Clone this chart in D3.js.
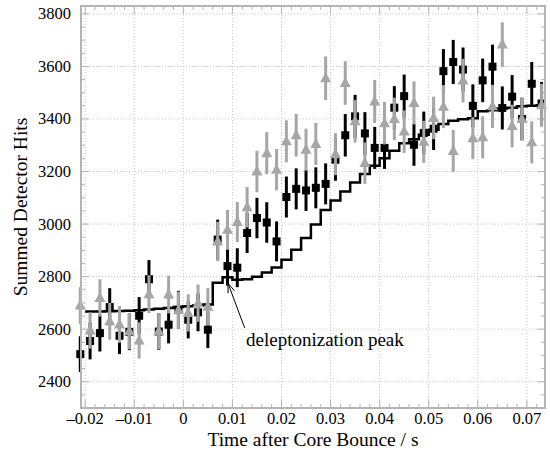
<!DOCTYPE html>
<html>
<head>
<meta charset="utf-8">
<title>Summed Detector Hits</title>
<script src="https://d3js.org/d3.v7.min.js"></script>
<style>
  body { margin: 0; background: #fff; }
  svg { display: block; font-family: "Liberation Serif", "DejaVu Serif", serif; }
  .grid line { stroke: #c8c8c8; stroke-width: 1; stroke-dasharray: 1,2; }
  .frame { fill: none; stroke: #b4b4b4; stroke-width: 2; }
  .tick-mark { stroke: #b4b4b4; stroke-width: 1; }
  .tick-label { font-size: 16.5px; fill: #000; }
  .axis-title { font-size: 19.5px; fill: #000; }
  .step { fill: none; stroke: #000; stroke-width: 2.5; }
</style>
</head>
<body>
<svg id="chart" width="550" height="453"></svg>
<script>
// point times (bin centres, s)
const times = [-0.021, -0.019, -0.017, -0.015, -0.013, -0.011, -0.009, -0.007, -0.005, -0.003,
  -0.001, 0.001, 0.003, 0.005, 0.007, 0.009, 0.011, 0.013, 0.015, 0.017,
  0.019, 0.021, 0.023, 0.025, 0.027, 0.029, 0.031, 0.033, 0.035, 0.037,
  0.039, 0.041, 0.043, 0.045, 0.047, 0.049, 0.051, 0.053, 0.055, 0.057,
  0.059, 0.061, 0.063, 0.065, 0.067, 0.069, 0.071, 0.073];

// black squares
const blackHits = [2505, 2555, 2585, 2684, 2575, 2590, 2651, 2790, 2591, 2617,
  2674, 2636, 2664, 2598, 2941, 2840, 2834, 2966, 3023, 3006,
  2934, 3103, 3134, 3128, 3138, 3153, 3245, 3338, 3410, 3345,
  3290, 3290, 3443, 3487, 3302, 3347, 3363, 3582, 3617, 3588,
  3450, 3547, 3599, 3442, 3485, 3400, 3534, 3459];
const blackErr = [68, 70, 70, 72, 70, 70, 71, 73, 70, 71,
  72, 71, 72, 70, 76, 74, 74, 76, 77, 77,
  76, 78, 78, 78, 78, 78, 80, 81, 82, 81,
  80, 80, 82, 82, 80, 81, 81, 84, 84, 84,
  82, 83, 84, 82, 82, 81, 83, 82];

// grey triangles
const greyHits = [2690, 2595, 2719, 2630, 2618, 2592, 2557, 2733, 2592, 2732,
  2672, 2662, 2699, 2685, 2934, 2978, 3008, 3064, 3200, 3270,
  3207, 3315, 3338, 3283, 3305, 3555, 3266, 3537, 3391, 3232,
  3467, 3384, 3400, 3352, 3461, 3313, 3404, 3447, 3278, 3546,
  3327, 3330, 3448, 3683, 3373, 3400, 3311, 3452];
const greyErr = [70, 69, 71, 70, 70, 69, 69, 72, 69, 72,
  71, 71, 71, 71, 75, 76, 76, 77, 79, 80,
  79, 80, 81, 80, 80, 83, 80, 83, 81, 79,
  82, 81, 81, 81, 82, 80, 81, 82, 80, 83,
  80, 80, 82, 85, 81, 81, 80, 82];

// step line (bin left edges, s) and its levels
const stepEdges = [-0.020, -0.018, -0.016, -0.014, -0.012, -0.010, -0.008, -0.006, -0.004, -0.002,
  0.000, 0.002, 0.004, 0.006, 0.008, 0.010, 0.012, 0.014, 0.016, 0.018,
  0.020, 0.022, 0.024, 0.026, 0.028, 0.030, 0.032, 0.034, 0.036, 0.038,
  0.040, 0.042, 0.044, 0.046, 0.048, 0.050, 0.052, 0.054, 0.056, 0.058,
  0.060, 0.062, 0.064, 0.066, 0.068, 0.070, 0.072, 0.074];
const stepHits = [2667, 2667, 2668, 2669, 2670, 2672, 2675, 2678, 2681, 2684,
  2687, 2690, 2694, 2777, 2798, 2788, 2790, 2800, 2816, 2835,
  2864, 2902, 2947, 2998, 3054, 3090, 3124, 3158, 3191, 3222,
  3251, 3279, 3308, 3323, 3340, 3359, 3381, 3393, 3399, 3403,
  3429, 3433, 3440, 3443, 3448, 3450, 3452];

const xTicks = [-0.02, -0.01, 0, 0.01, 0.02, 0.03, 0.04, 0.05, 0.06, 0.07];
const yTicks = [2400, 2600, 2800, 3000, 3200, 3400, 3600, 3800];

const svg = d3.select('#chart');
const pLeft = 81, pRight = 545, pTop = 6, pBottom = 408;

const x = d3.scaleLinear().domain([-0.02085, 0.0737]).range([pLeft, pRight]);
const y = d3.scaleLinear().domain([2300, 3830]).range([pBottom, pTop]);

svg.append('rect').attr('width', 550).attr('height', 453).attr('fill', '#fff');

svg.append('clipPath').attr('id', 'clip')
  .append('rect').attr('x', pLeft - 6).attr('y', pTop).attr('width', pRight - pLeft + 6).attr('height', pBottom - pTop);

// grid
const grid = svg.append('g').attr('class', 'grid');
grid.selectAll('.gx').data(xTicks).join('line').attr('class', 'gx')
  .attr('x1', d => x(d)).attr('x2', d => x(d)).attr('y1', pTop).attr('y2', pBottom);
grid.selectAll('.gy').data(yTicks).join('line').attr('class', 'gy')
  .attr('y1', d => y(d)).attr('y2', d => y(d)).attr('x1', pLeft).attr('x2', pRight);

// tick marks on all four sides, pointing inwards
const ticks = svg.append('g');
const xMinor = d3.range(-0.020, 0.0737, 0.002);
const yMinor = d3.range(2300, 3830, 50);
xMinor.forEach(v => {
  const major = xTicks.some(t => Math.abs(t - v) < 1e-6);
  const len = major ? 8 : 4;
  ticks.append('line').attr('class', 'tick-mark')
    .attr('x1', x(v)).attr('x2', x(v)).attr('y1', pBottom).attr('y2', pBottom - len);
  ticks.append('line').attr('class', 'tick-mark')
    .attr('x1', x(v)).attr('x2', x(v)).attr('y1', pTop).attr('y2', pTop + len);
});
yMinor.forEach(v => {
  const major = yTicks.includes(v);
  const len = major ? 8 : 4;
  ticks.append('line').attr('class', 'tick-mark')
    .attr('y1', y(v)).attr('y2', y(v)).attr('x1', pLeft).attr('x2', pLeft + len);
  ticks.append('line').attr('class', 'tick-mark')
    .attr('y1', y(v)).attr('y2', y(v)).attr('x1', pRight).attr('x2', pRight - len);
});

// tick labels
svg.append('g').selectAll('text').data(xTicks).join('text')
  .attr('class', 'tick-label')
  .attr('x', d => x(d)).attr('y', 424)
  .attr('text-anchor', 'middle')
  .text(d => d === 0 ? '0' : (d < 0 ? '\u2013' : '') + Math.abs(d).toFixed(2));

svg.append('g').selectAll('text').data(yTicks).join('text')
  .attr('class', 'tick-label')
  .attr('x', pLeft - 10).attr('y', d => y(d)).attr('dy', '0.33em')
  .attr('text-anchor', 'end')
  .text(d => d);

// step line
const stepData = stepHits.map((v, i) => [stepEdges[i], v]);
stepData.push([stepEdges[stepEdges.length - 1], stepHits[stepHits.length - 1]]);
svg.append('path')
  .attr('class', 'step')
  .attr('clip-path', 'url(#clip)')
  .attr('d', d3.line().curve(d3.curveStepAfter).x(d => x(d[0])).y(d => y(d[1]))(stepData));

// black squares with error bars
const blk = svg.append('g');
blk.selectAll('line').data(times).join('line')
  .attr('x1', d => x(d)).attr('x2', d => x(d))
  .attr('y1', (d, i) => y(blackHits[i] - blackErr[i]))
  .attr('y2', (d, i) => y(blackHits[i] + blackErr[i]))
  .attr('stroke', '#000').attr('stroke-width', 3);
blk.selectAll('rect').data(times).join('rect')
  .attr('x', d => x(d) - 4).attr('y', (d, i) => y(blackHits[i]) - 4)
  .attr('width', 8).attr('height', 8).attr('fill', '#000');

// grey triangles with error bars
const gry = svg.append('g');
gry.selectAll('line').data(times).join('line')
  .attr('x1', d => x(d)).attr('x2', d => x(d))
  .attr('y1', (d, i) => y(greyHits[i] - greyErr[i]))
  .attr('y2', (d, i) => y(greyHits[i] + greyErr[i]))
  .attr('stroke', '#a6a6a6').attr('stroke-width', 3);
gry.selectAll('path').data(times).join('path')
  .attr('transform', (d, i) => `translate(${x(d)},${y(greyHits[i])})`)
  .attr('d', 'M0,-6L5.5,4L-5.5,4Z')
  .attr('fill', '#a6a6a6');

// frame
svg.append('rect').attr('class', 'frame')
  .attr('x', pLeft).attr('y', pTop).attr('width', pRight - pLeft).attr('height', pBottom - pTop);

// annotation
const tipX = x(0.0091), tipY = y(2775);
const tailX = x(0.0125), tailY = y(2605);
svg.append('line').attr('x1', tailX).attr('y1', tailY).attr('x2', tipX).attr('y2', tipY)
  .attr('stroke', '#000').attr('stroke-width', 1);
const ang = Math.atan2(tailY - tipY, tailX - tipX);
const headLen = 10, spread = 0.35;
svg.append('path')
  .attr('d', `M${tipX + headLen * Math.cos(ang - spread)},${tipY + headLen * Math.sin(ang - spread)}L${tipX},${tipY}L${tipX + headLen * Math.cos(ang + spread)},${tipY + headLen * Math.sin(ang + spread)}`)
  .attr('fill', 'none').attr('stroke', '#000').attr('stroke-width', 1);
svg.append('text')
  .attr('x', 246).attr('y', 346)
  .attr('font-size', 19)
  .text('deleptonization peak');

// axis titles
svg.append('text').attr('class', 'axis-title')
  .attr('x', (pLeft + pRight) / 2).attr('y', 446)
  .attr('text-anchor', 'middle')
  .text('Time after Core Bounce / s');
svg.append('text').attr('class', 'axis-title')
  .attr('transform', `translate(27,${(pTop + pBottom) / 2}) rotate(-90)`)
  .attr('text-anchor', 'middle')
  .text('Summed Detector Hits');
</script>
</body>
</html>
